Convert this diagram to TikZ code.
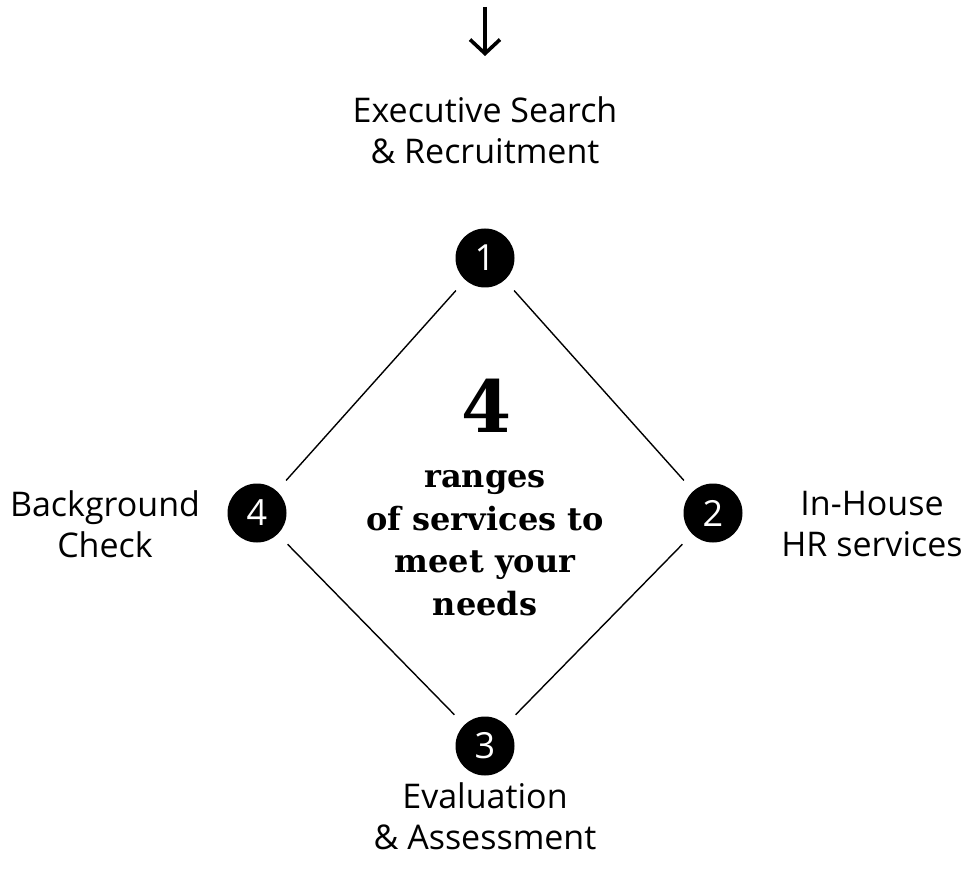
\documentclass[tikz,border=0pt]{standalone}
\usepackage{fontspec}
\setmainfont{DejaVu Serif}
\newfontfamily\labelfont{Open Sans}
\usetikzlibrary{arrows.meta}

\tikzset{
    step circle/.style={circle, fill=black, minimum size=59pt, inner sep=0pt,
        text=white, font=\labelfont\fontsize{36}{36}\selectfont},
    service/.style={align=center, font=\labelfont\fontsize{34}{41}\selectfont},
    edge line/.style={black, line width=1.4pt, shorten <=14pt, shorten >=14pt}
}

\begin{document}
\begin{tikzpicture}[x=1pt, y=-1pt]
        \useasboundingbox (0,0) rectangle (969,882);

        % the four steps
        \node[step circle] (c1) at (485,258) {1};
        \node[step circle] (c2) at (713,513) {2};
        \node[step circle] (c3) at (485,746) {3};
        \node[step circle] (c4) at (257,513) {4};

        \draw[edge line] (c1) -- (c2);
        \draw[edge line] (c2) -- (c3);
        \draw[edge line] (c3) -- (c4);
        \draw[edge line] (c4) -- (c1);

        % labels
        \node[service] (l1) at (485,130) {Executive Search\\\& Recruitment};
        \node[service] (l2) at (872,524) {In-House\\HR services};
        \node[service] (l3) at (485,816) {Evaluation\\\& Assessment};
        \node[service] (l4) at (105,524) {Background\\Check};

        \coordinate (top) at (485,7);
        \coordinate (tip) at (485,56);
        \draw[line width=3.6pt, -{Straight Barb[length=14pt, width=30pt, line width=3.6pt]}] (top) -- (tip);

        % middle
        \node[font=\bfseries\fontsize{72}{72}\selectfont] (num) at (487,406) {4};
        \node[align=center, font=\bfseries\fontsize{32}{42.5}\selectfont] (txt) at (485,543)
            {ranges\\of services to\\meet your\\needs};
    \end{tikzpicture}
\end{document}
